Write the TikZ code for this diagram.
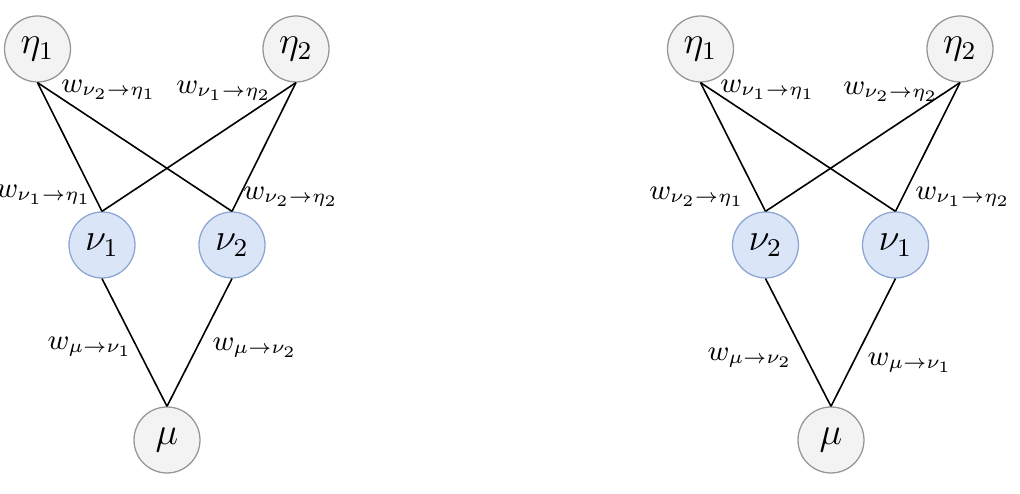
\documentclass[tikz,border=0pt]{standalone}
\usepackage{amsmath,amssymb}
\usetikzlibrary{positioning}
\definecolor{obsfill}{RGB}{243,243,243}
\definecolor{obsdraw}{RGB}{150,150,150}
\definecolor{hidfill}{RGB}{218,230,248}
\definecolor{hiddraw}{RGB}{140,165,210}
\begin{document}
\begin{tikzpicture}[
  x=0.011cm, y=-0.011cm,
  obs/.style={circle,draw=obsdraw,fill=obsfill,minimum size=0.726cm,inner sep=0pt,font=\large},
  hid/.style={obs,draw=hiddraw,fill=hidfill},
  wlab/.style={inner sep=0pt,font=\small},
  ln/.style={line width=0.5pt}]
\useasboundingbox (0,0) rectangle (1020,494);
% left network
\node[obs] (eta1L) at (37.5,49) {$\eta_1$};
\node[obs] (eta2L) at (296,49) {$\eta_2$};
\node[hid] (nu1L) at (102,245) {$\nu_1$};
\node[hid] (nu2L) at (232,245) {$\nu_2$};
\node[obs] (muL) at (167,440) {$\mu$};
\draw[ln] (eta1L.south) -- (nu1L.north);
\draw[ln] (eta1L.south) -- (nu2L.north);
\draw[ln] (eta2L.south) -- (nu1L.north);
\draw[ln] (eta2L.south) -- (nu2L.north);
\draw[ln] (nu1L.south) -- (muL.north);
\draw[ln] (nu2L.south) -- (muL.north);
\node[wlab] (w21L) at (109,90) {$w_{\nu_2\to\eta_1}$};
\node[wlab] (w12L) at (224,91) {$w_{\nu_1\to\eta_2}$};
\node[wlab] (w11L) at (44,195) {$w_{\nu_1\to\eta_1}$};
\node[wlab] (w22L) at (291,197) {$w_{\nu_2\to\eta_2}$};
\node[wlab] (wm1L) at (90,347) {$w_{\mu\to\nu_1}$};
\node[wlab] (wm2L) at (255,348) {$w_{\mu\to\nu_2}$};
% right network
\node[obs] (eta1R) at (700.5,49) {$\eta_1$};
\node[obs] (eta2R) at (960,49) {$\eta_2$};
\node[hid] (nu2R) at (765.5,245) {$\nu_2$};
\node[hid] (nu1R) at (895.5,245) {$\nu_1$};
\node[obs] (muR) at (831,440) {$\mu$};
\draw[ln] (eta1R.south) -- (nu2R.north);
\draw[ln] (eta1R.south) -- (nu1R.north);
\draw[ln] (eta2R.south) -- (nu2R.north);
\draw[ln] (eta2R.south) -- (nu1R.north);
\draw[ln] (nu2R.south) -- (muR.north);
\draw[ln] (nu1R.south) -- (muR.north);
\node[wlab] (w11R) at (768,90) {$w_{\nu_1\to\eta_1}$};
\node[wlab] (w22R) at (891,92) {$w_{\nu_2\to\eta_2}$};
\node[wlab] (w21R) at (697,197) {$w_{\nu_2\to\eta_1}$};
\node[wlab] (w12R) at (963,197) {$w_{\nu_1\to\eta_2}$};
\node[wlab] (wm2R) at (750,358) {$w_{\mu\to\nu_2}$};
\node[wlab] (wm1R) at (910,363) {$w_{\mu\to\nu_1}$};
\end{tikzpicture}
\end{document}
